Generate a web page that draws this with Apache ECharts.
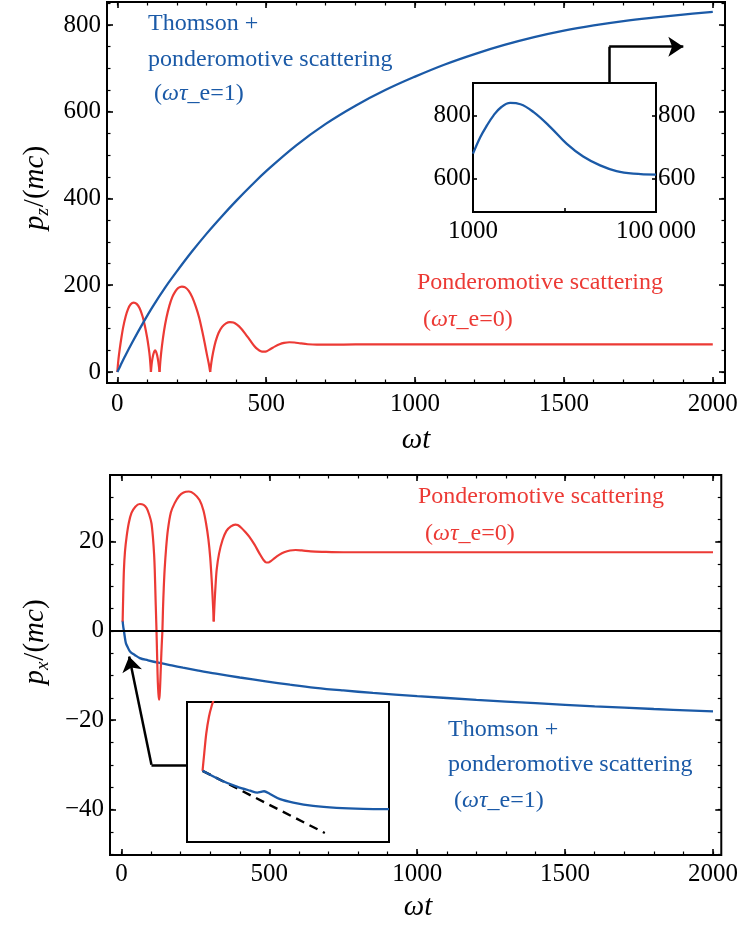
<!DOCTYPE html>
<html><head><meta charset="utf-8">
<script src="https://cdn.jsdelivr.net/npm/echarts@6/dist/echarts.min.js"></script>
<style>html,body{margin:0;padding:0;background:#fff}#c{width:741px;height:926px}</style>
</head><body><div id="c"></div>
<script>
// ---------------- data ----------------
// top panel: p_z/(mc) vs ωt
const pzPondT = [0,4,8,14,20,28,36,45,55,65,75,85,93,100,105,109,113,116,120,124,127,130,134,138,142,145,150,157,165,175,185,195,205,217,228,240,252,264,275,285,294,301,307,312,316,322,330,340,352,365,378,390,402,415,430,445,460,472,482,492,502,515,530,545,560,578,595,615,640,670,720,800,1000,1500,2000];
const pzPondV = [0,30,52,80,104,128,145,156,160,157,147,128,105,80,58,36,0,22,38,47,50,47,38,22,0,28,60,95,125,153,173,186,194,197,195,187,172,150,125,95,65,40,20,0,22,46,70,90,104,112,115,114,109,101,88,74,60,52,48,47,48,53,59,64,67,68.5,68,66,64,63,63,63.5,63.5,63.5,63.5];
const pzPondCusps = [113,142,312];
const pzThomT = [0,10,25,50,88,120,160,200,250,300,350,400,450,500,600,700,800,900,1000,1100,1200,1300,1400,1500,1600,1700,1800,1900,2000];
const pzThomV = [0,14,35,68,115,152,194,232,277,319,358,395,430,463,522,572,614,650,681,709,733,754,772,787,799,809,817,824,830];
// top inset (log time axis)
const insetPzT = [1000,1200,1420,1680,2000,2550,3300,4600,7000,10600,16000,24500,37000,56500,100000];
const insetPzV = [679,731,768,800,824,839,835,810,763,710,670,642,624,616,613];
// bottom panel: p_x/(mc) vs ωt
const pxPondT = [4,6,8.4,12,17.5,25,34,47,62,75,85,94,101.5,107,110.5,112.6,115,117,118.5,120,121.5,123,125,127,129,131,133,135,137,138.5,140.5,143,146,151,157,167,180,195,210,228,245,264,277,286,294,300,305,309,312,315,318,322,330,342,355,370,385,393,405,418,432,450,466,480,490,497,505,518,533,550,570,589,610,640,680,750,1000,1500,2000];
const pxPondV = [2.1,8,13.7,17.8,21.1,24.2,26.4,27.8,28.4,28.2,27.5,26.0,24.1,20.5,17,13.7,8,3.5,0,-4,-8,-11.5,-14,-15.4,-14.5,-12,-8.5,-5,-2,0,5,9.5,13.7,18.5,22.6,26.5,28.6,30.2,31,31.2,30.7,29.3,27,24.1,20.5,16.5,11.5,6.5,2.1,6.5,10,13.7,17.3,20.4,22.4,23.4,23.8,23.7,23.1,22.2,21.1,19.3,17.4,15.9,15.3,15.3,15.6,16.3,17,17.6,18,18.1,18,17.8,17.7,17.6,17.6,17.6,17.6];
const pxPondCusps = [312];
const pxThomT = [4,6,8.4,11,15,20,29,45,62,90,129,170,208,260,320,400,488,570,656,750,850,1000,1200,1400,1600,1800,2000];
const pxThomV = [2.3,1.0,0,-1.2,-2.75,-3.5,-4.6,-5.4,-6.1,-6.6,-7.2,-7.75,-8.25,-8.9,-9.6,-10.45,-11.3,-12.05,-12.75,-13.35,-13.9,-14.6,-15.45,-16.2,-16.9,-17.5,-18.05];
// bottom inset (magnified start, arbitrary units)
const zoomRedX = [1.0,1.11,1.24,1.41,1.6,1.75];
const zoomRedY = [0,1.5,3.2,4.62,5.62,6.19];
const zoomBlueX = [1.0,2.14,3.21,4.06,4.53,4.75,4.96,5.34,5.99,6.84,8.12,9.62,11.33,13.0];
const zoomBlueY = [0,-0.78,-1.35,-1.70,-1.87,-1.81,-1.75,-1.98,-2.43,-2.72,-3.0,-3.17,-3.26,-3.28];
const zoomTangentX = [1.0,8.87];
const zoomTangentY = [0,-5.33];
// pointer arrows (data units of the main panels)
const topArrowT = [1652,1652,1901];
const topArrowV = [667,750,750];
const bottomArrowT = [221,101.5,26];
const bottomArrowV = [-30,-30,-5.75];
// ticks
const tTicks = [0,500,1000,1500,2000];
const tMinor = [0,100,200,300,400,500,600,700,800,900,1000,1100,1200,1300,1400,1500,1600,1700,1800,1900,2000];
const pzTicks = [0,200,400,600,800];
const pzMinor = [0,50,100,150,200,250,300,350,400,450,500,550,600,650,700,750,800,850];
const pxTicks = [-40,-20,0,20];
const pxMinor = [-50,-45,-40,-35,-30,-25,-20,-15,-10,-5,0,5,10,15,20,25,30];
const insetPzTicks = [600,800];
const insetTTicks = [1000,10000,100000];

// ---------------- chart ----------------
const FONT = 'Liberation Serif';
const BLUE = '#1b5aa7', RED = '#ec3a35';
const zip = (a, b) => a.map((v, i) => [v, b[i]]);
const minusFmt = v => (v < 0 ? '\u2212' + Math.abs(v) : String(v));
// split a curve into pieces at its cusps (each piece smoothed separately, cusps stay sharp)
function splitAt(T, V, cusps) {
  const pieces = []; let cur = [];
  T.forEach((t, i) => {
    cur.push([t, V[i]]);
    if (cusps.indexOf(t) >= 0) { pieces.push(cur); cur = [[t, V[i]]]; }
  });
  if (cur.length > 1) pieces.push(cur);
  return pieces;
}

const xAxes = [], yAxes = [];
function baseAxis(gridIndex, min, max, position) {
  return { type: 'value', gridIndex, min, max, position,
    splitLine: { show: false }, axisLine: { show: false, onZero: false },
    minorTick: { show: false } };
}
function tickCfg(vals, len, w) {
  return { show: true, inside: true, length: len, customValues: vals, lineStyle: { color: '#000', width: w } };
}
function frameAxes(g, xr, yr, xMaj, xMin, yMaj, yMin, xMargin) {
  const xi = xAxes.length;
  xAxes.push(Object.assign(baseAxis(g, xr[0], xr[1], 'bottom'), {
    axisTick: tickCfg(xMaj, 6, 1.6),
    axisLabel: { show: true, customValues: xMaj, margin: xMargin, fontFamily: FONT, fontSize: 25, color: '#000', formatter: minusFmt } }));
  xAxes.push(Object.assign(baseAxis(g, xr[0], xr[1], 'bottom'), { axisTick: tickCfg(xMin, 3.5, 1.2), axisLabel: { show: false } }));
  xAxes.push(Object.assign(baseAxis(g, xr[0], xr[1], 'top'), { axisTick: tickCfg(xMaj, 6, 1.6), axisLabel: { show: false } }));
  xAxes.push(Object.assign(baseAxis(g, xr[0], xr[1], 'top'), { axisTick: tickCfg(xMin, 3.5, 1.2), axisLabel: { show: false } }));
  const yi = yAxes.length;
  yAxes.push(Object.assign(baseAxis(g, yr[0], yr[1], 'left'), {
    axisTick: tickCfg(yMaj, 6, 1.6),
    axisLabel: { show: true, customValues: yMaj, margin: 6, fontFamily: FONT, fontSize: 25, color: '#000', formatter: minusFmt } }));
  yAxes.push(Object.assign(baseAxis(g, yr[0], yr[1], 'left'), { axisTick: tickCfg(yMin, 3.5, 1.2), axisLabel: { show: false } }));
  yAxes.push(Object.assign(baseAxis(g, yr[0], yr[1], 'right'), { axisTick: tickCfg(yMaj, 6, 1.6), axisLabel: { show: false } }));
  yAxes.push(Object.assign(baseAxis(g, yr[0], yr[1], 'right'), { axisTick: tickCfg(yMin, 3.5, 1.2), axisLabel: { show: false } }));
  return { xi, yi };
}

const grids = [
  { left: 107, top: 2, width: 618, height: 381 },
  { left: 110, top: 475, width: 615, height: 380 },
  { left: 473, top: 83, width: 183, height: 129 },
  { left: 187, top: 702, width: 202, height: 140 }
].map(g => Object.assign(g, { show: true, borderColor: '#000', borderWidth: 2, backgroundColor: '#fff', containLabel: false }));

const A0 = frameAxes(0, [-34.6, 2041], [-25.4, 853], tTicks, tMinor, pzTicks, pzMinor, 9);
const A1 = frameAxes(1, [-38.7, 2028], [-50.2, 34.9], tTicks, tMinor, pxTicks, pxMinor, 7);

// top inset axes
const xInset = xAxes.length;
xAxes.push({ type: 'log', logBase: 10, gridIndex: 2, min: 1000, max: 100000, position: 'bottom',
  splitLine: { show: false }, axisLine: { show: false, onZero: false },
  axisTick: { show: true, inside: true, length: 4, customValues: insetTTicks, lineStyle: { color: '#000', width: 1.6 } },
  axisLabel: { show: true, customValues: insetTTicks, margin: 7, fontFamily: FONT, fontSize: 25, color: '#000',
    formatter: v => { const r = Math.round(v); return r === 1000 ? '1000' : (r === 100000 ? '100\u2009000' : ''); } } });
const yInset = yAxes.length;
['left', 'right'].forEach(pos => {
  yAxes.push({ type: 'value', gridIndex: 2, min: 495, max: 902, position: pos,
    splitLine: { show: false }, axisLine: { show: false, onZero: false },
    axisTick: { show: true, inside: true, length: 4, customValues: insetPzTicks, lineStyle: { color: '#000', width: 1.6 } },
    axisLabel: { show: true, customValues: insetPzTicks, margin: 2, fontFamily: FONT, fontSize: 25, color: '#000' } });
});
// bottom inset axes (hidden)
const xZoom = xAxes.length;
xAxes.push({ type: 'value', gridIndex: 3, min: 0, max: 13, show: false });
const yZoom = yAxes.length;
yAxes.push({ type: 'value', gridIndex: 3, min: -6.1, max: 5.9, show: false });

const lineS = (xi, yi, data, color, w, extra) => Object.assign({
  type: 'line', xAxisIndex: xi, yAxisIndex: yi, data, showSymbol: false, symbol: 'none',
  lineStyle: { color, width: w }, itemStyle: { color }, animation: false, silent: true, z: 3
}, extra || {});
const seg = (T, V, i, j) => [[T[i], V[i]], [T[j], V[j]]];

const series = [
  ...splitAt(pzPondT, pzPondV, pzPondCusps).map(p => lineS(A0.xi, A0.yi, p, RED, 2.2, { smooth: 0.3 })),
  lineS(A0.xi, A0.yi, zip(pzThomT, pzThomV), BLUE, 2.3, { smooth: 0.4 }),
  lineS(A1.xi, A1.yi, zip(pxThomT, pxThomV), BLUE, 2.3, { smooth: 0.4,
    markLine: { silent: true, symbol: 'none', animation: false, label: { show: false },
      lineStyle: { color: '#000', width: 2, type: 'solid' }, data: [{ yAxis: 0 }] } }),
  ...splitAt(pxPondT, pxPondV, pxPondCusps).map(p => lineS(A1.xi, A1.yi, p, RED, 2.2, { z: 4, smooth: 0.3 })),
  lineS(xInset, yInset, zip(insetPzT, insetPzV), BLUE, 2.3, { smooth: 0.4 }),
  lineS(xZoom, yZoom, zip(zoomTangentX, zoomTangentY), '#000', 2.4, { lineStyle: { color: '#000', width: 2.4, type: [9, 6] } }),
  lineS(xZoom, yZoom, zip(zoomRedX, zoomRedY), RED, 2.2, { smooth: 0.3 }),
  lineS(xZoom, yZoom, zip(zoomBlueX, zoomBlueY), BLUE, 2.3, { smooth: 0.3 }),
  { type: 'lines', coordinateSystem: 'cartesian2d', xAxisIndex: A0.xi, yAxisIndex: A0.yi, silent: true, animation: false,
    symbol: 'none', lineStyle: { color: '#000', width: 2.5, opacity: 1, curveness: 0 },
    data: [{ coords: seg(topArrowT, topArrowV, 0, 1) }] },
  { type: 'lines', coordinateSystem: 'cartesian2d', xAxisIndex: A0.xi, yAxisIndex: A0.yi, silent: true, animation: false,
    symbol: ['none', 'arrow'], symbolSize: 15, lineStyle: { color: '#000', width: 2.5, opacity: 1, curveness: 0 },
    data: [{ coords: seg(topArrowT, topArrowV, 1, 2) }] },
  { type: 'lines', coordinateSystem: 'cartesian2d', xAxisIndex: A1.xi, yAxisIndex: A1.yi, silent: true, animation: false,
    symbol: 'none', lineStyle: { color: '#000', width: 2.5, opacity: 1, curveness: 0 },
    data: [{ coords: seg(bottomArrowT, bottomArrowV, 0, 1) }] },
  { type: 'lines', coordinateSystem: 'cartesian2d', xAxisIndex: A1.xi, yAxisIndex: A1.yi, silent: true, animation: false,
    symbol: ['none', 'arrow'], symbolSize: 15, lineStyle: { color: '#000', width: 2.5, opacity: 1, curveness: 0 },
    data: [{ coords: seg(bottomArrowT, bottomArrowV, 1, 2) }] }
];

// ---------------- text ----------------
function richTxt(x, y, text, color, size, opts) {
  const tok = (extra) => Object.assign({ fill: color, color, fontFamily: FONT, fontSize: size }, extra);
  return Object.assign({
    type: 'text', x, y, silent: true, z: 10,
    style: { text, fill: color, font: size + 'px "' + FONT + '"', align: 'left', verticalAlign: 'middle',
      textAlign: 'left', textVerticalAlign: 'middle',
      rich: { n: tok({}), i: tok({ fontStyle: 'italic' }),
              s: tok({ fontStyle: 'italic', fontSize: Math.round(size * 0.66), padding: [Math.round(size * 0.55), 1, 0, 0] }) } }
  }, opts || {});
}
function ctr(el) { el.style.align = 'center'; el.style.textAlign = 'center'; return el; }

const graphic = [
  richTxt(148, 24, '{n|Thomson +}', BLUE, 24),
  richTxt(148, 60, '{n|ponderomotive scattering}', BLUE, 24),
  richTxt(154, 94, '{n|(}{i|ωτ}{n|_e=1)}', BLUE, 24),
  richTxt(417, 283, '{n|Ponderomotive scattering}', RED, 24),
  richTxt(423, 320, '{n|(}{i|ωτ}{n|_e=0)}', RED, 24),
  richTxt(418, 497, '{n|Ponderomotive scattering}', RED, 24),
  richTxt(425, 534, '{n|(}{i|ωτ}{n|_e=0)}', RED, 24),
  richTxt(448, 730, '{n|Thomson +}', BLUE, 24),
  richTxt(448, 765, '{n|ponderomotive scattering}', BLUE, 24),
  richTxt(454, 801, '{n|(}{i|ωτ}{n|_e=1)}', BLUE, 24),
  ctr(richTxt(416, 440, '{i|ωt}', '#000', 29)),
  ctr(richTxt(418, 907, '{i|ωt}', '#000', 29)),
  ctr(richTxt(35, 188, '{i|p}{s|z}{n|/(}{i|mc}{n|)}', '#000', 29, { rotation: Math.PI / 2 })),
  ctr(richTxt(35, 642, '{i|p}{s|x}{n|/(}{i|mc}{n|)}', '#000', 29, { rotation: Math.PI / 2 }))
];

const chart = echarts.init(document.getElementById('c'), null, { renderer: 'canvas' });
chart.setOption({
  animation: false,
  backgroundColor: '#fff',
  grid: grids,
  xAxis: xAxes,
  yAxis: yAxes,
  series,
  graphic
});
</script>
</body></html>
